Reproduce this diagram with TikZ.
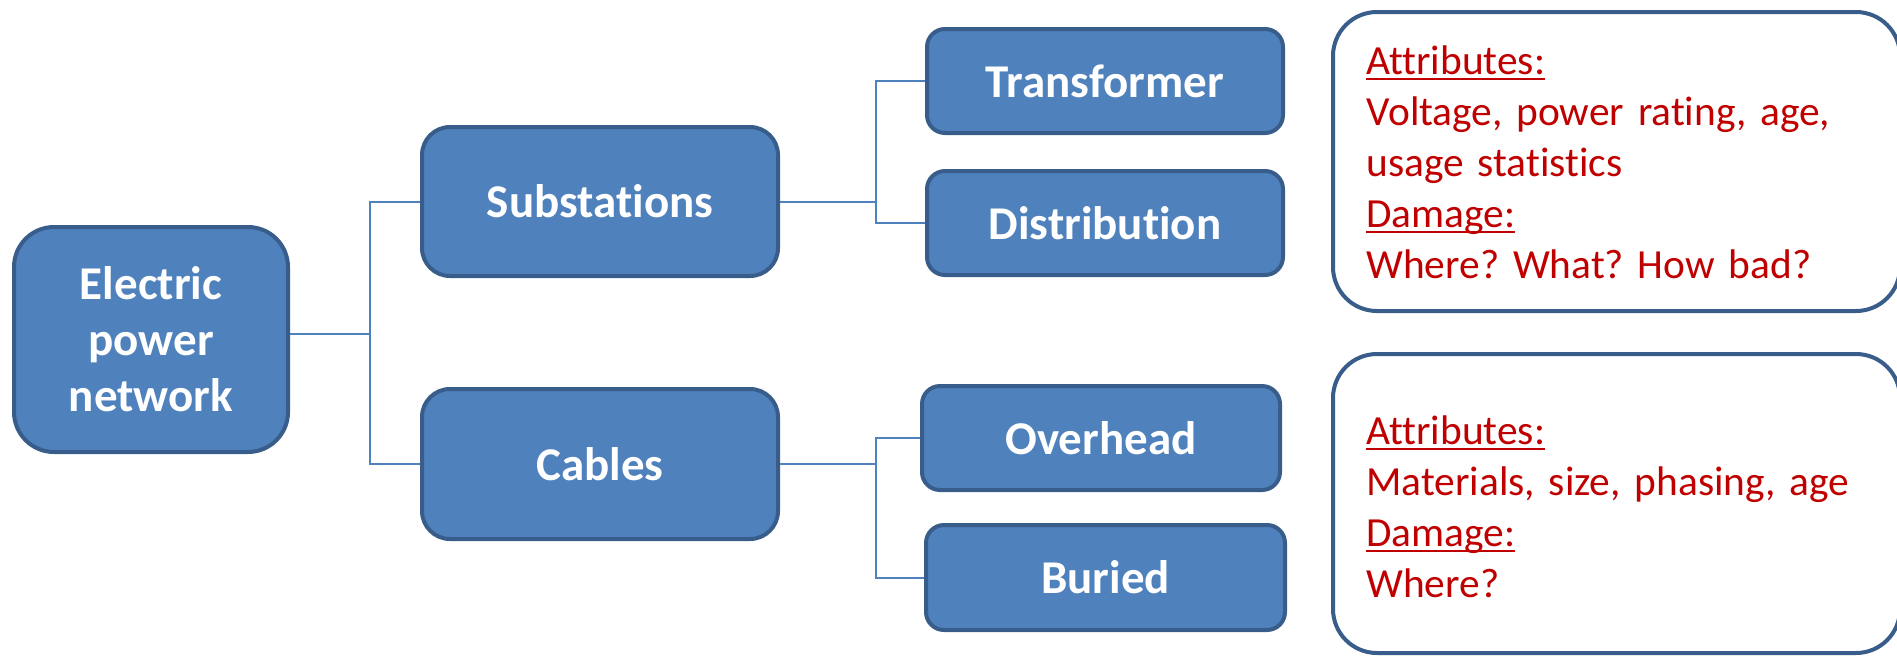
\documentclass[tikz,border=0pt]{standalone}
\usepackage{fontspec}
\setmainfont{Carlito}[Ligatures=NoCommon]
\newfontfamily\notefont{Carlito}[Ligatures=NoCommon, WordSpace=0.8]
\frenchspacing
\definecolor{boxfill}{HTML}{4F81BD}
\definecolor{boxedge}{HTML}{385D8A}
\definecolor{linkcol}{HTML}{4F81BD}
\definecolor{notered}{HTML}{C00000}
% underline sitting a fixed distance below the baseline
\newcommand{\headline}[1]{\leavevmode\setbox0\hbox{#1}\rlap{\rule[-3pt]{\wd0}{1pt}}\box0}
\tikzset{
  x=0.5pt, y=-0.5pt,
  blockbox/.style={draw=boxedge, fill=boxfill, line width=2pt, text=white,
    font=\fontsize{23.5}{28}\selectfont\bfseries, align=center, inner sep=0pt},
  conn/.style={draw=linkcol, line width=1pt},
  infobox/.style={draw=boxedge, line width=2pt, rounded corners=22pt, fill=white, inner sep=0pt},
  infotext/.style={text=notered, font=\notefont\fontsize{20.7}{25.5}\selectfont,
    text width=265pt, align=left, inner sep=0pt, anchor=base west}
}
\begin{document}
\begin{tikzpicture}
\useasboundingbox (0,0) rectangle (1897,655);

% tree of components
\node[blockbox, rounded corners=20pt, minimum width=137pt, minimum height=112.5pt]
  (epn) at (151,339.5) {Electric\\power\\network};
\node[blockbox, rounded corners=14pt, minimum width=178pt, minimum height=74.5pt]
  (sub) at (600,201.5) {Substations};
\node[blockbox, rounded corners=14pt, minimum width=178pt, minimum height=75pt]
  (cab) at (600,464) {Cables};
\node[blockbox, rounded corners=9pt, minimum width=178pt, minimum height=52pt]
  (trf) at (1105,81) {Transformer};
\node[blockbox, rounded corners=9pt, minimum width=178pt, minimum height=52pt]
  (dst) at (1105,223) {Distribution};
\node[blockbox, rounded corners=9pt, minimum width=179pt, minimum height=52pt]
  (ovh) at (1101,438) {Overhead};
\node[blockbox, rounded corners=9pt, minimum width=179.5pt, minimum height=52.5pt]
  (bur) at (1105.5,577.5) {Buried};

% elbow connectors
\coordinate (j1) at (370,334);
\coordinate (j2) at (876,201.5);
\coordinate (j3) at (876,464);
\draw[conn] (epn.east |- j1) -- (j1);
\draw[conn] (j1) |- (sub.west);
\draw[conn] (j1) |- (cab.west);
\draw[conn] (sub.east) -- (j2);
\draw[conn] (j2) |- (trf.west);
\draw[conn] (j2) |- (dst.west);
\draw[conn] (cab.east) -- (j3);
\draw[conn] (j3) |- (ovh.west);
\draw[conn] (j3) |- (bur.west);

% note boxes
\node[infobox, minimum width=283.5pt, minimum height=149.5pt] (inf1) at (1616.5,161.5) {};
\node[infobox, minimum width=283.5pt, minimum height=149.5pt] (inf2) at (1616.5,503.5) {};

\node[infotext] (txt1) at (1366,74) {\headline{Attributes:}\\
Voltage, power rating, age,\\
usage statistics\\
\headline{Damage:}\\
Where? What? How bad?};
\node[infotext] (txt2) at (1366,444) {\headline{Attributes:}\\
Materials, size, phasing, age\\
\headline{Damage:}\\
Where?};
\end{tikzpicture}
\end{document}
